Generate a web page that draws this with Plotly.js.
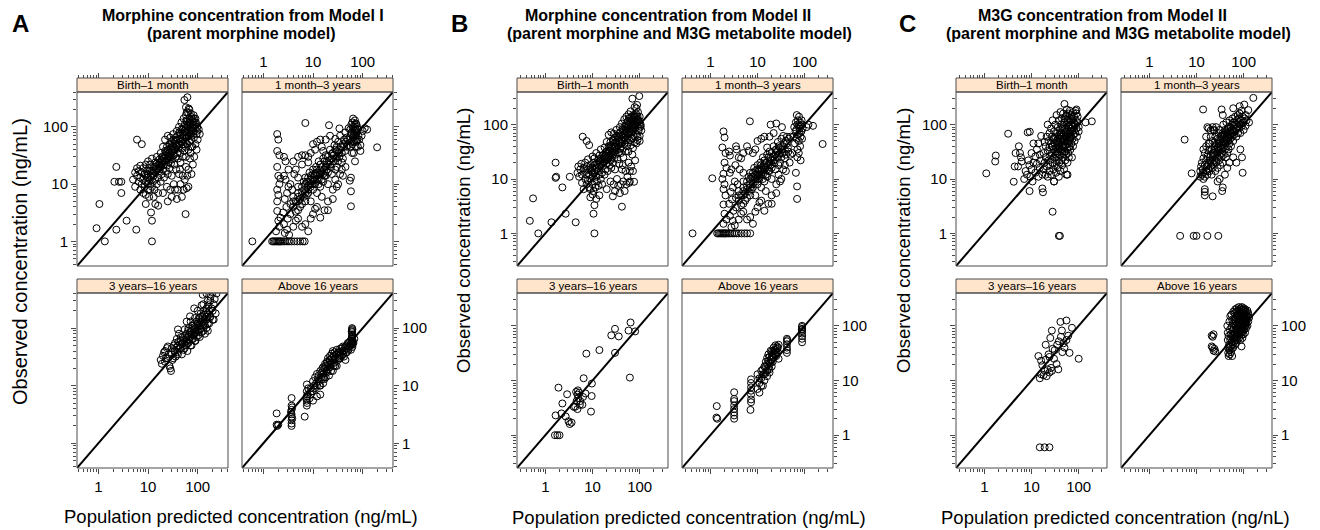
<!DOCTYPE html>
<html><head><meta charset="utf-8">
<script src="https://cdn.plot.ly/plotly-3.0.1.min.js"></script>
<style>html,body{margin:0;padding:0;background:#fff}#chart{width:1320px;height:530px}</style>
</head><body><div id="chart"></div>
<script>
// ---------------- data (observed vs population predicted, ng/mL) ----------------
const stripLabels = ['Birth–1 month','1 month–3 years','3 years–16 years','Above 16 years'];
const identityLine = [0.05, 2000];

const A_birth = [[0.92,1.7],[1.05,4.5],[1.35,1.0],[2.3,1.6],[3.7,2.3],[5.8,1.6],[2.3,20],[2.1,11],[2.6,11],[2.9,7],[2.9,11],[6,60],[7.5,50],[12,1],[12,2.3],[11.5,3.2],[57,3],[9,4.5],[14,4.5],[16,4.2],[13,6],
[5,12],[5.5,16],[5.5,9],[6,14],[6,19],[6.5,11],[6.5,17],[7,8],[7,13],[7,21],[7.5,10],[7.5,16],[8,7],[8,12],[8,19],[8.5,9],[8.5,15],[9,11],[9,6.5],[9,22],[9.5,13],[9.5,17],[10,8],[10,10],[10,15],[10,25],[10.5,6],[10.5,19],[11,12],[11,8],[11,22],[11.5,14],[12,9],[12,17],[12,28],[12.5,11],[13,14],[13,20],[13.5,8],[14,12],[14,24],[14,16],[15,10],[15,19],[15,30],[16,13],[16,22],[16,7],
[17,17],[17,27],[18,11],[18,20],[18,35],[19,15],[19,25],[20,18],[20,30],[20,45],[21,13],[21,22],[22,26],[22,38],[22,60],[23,17],[23,32],[24,21],[24,45],[25,28],[25,70],[25,15],[26,35],[26,24],[27,50],[27,19],[28,30],[28,42],[28,65],[29,23],[30,36],[30,55],[30,14],[31,27],[32,45],[32,75],[33,32],[34,22],[34,55],[35,40],[36,30],[36,65],[37,18],[38,48],[38,85],[39,35],
[40,28],[40,60],[41,42],[42,100],[43,50],[44,35],[45,75],[45,24],[46,55],[47,120],[48,42],[49,65],[50,30],[50,90],[51,50],[52,140],[53,70],[54,38],[55,110],[55,55],[56,80],[57,45],[58,160],[58,30],[59,95],[60,65],[61,125],[62,50],[63,85],[64,180],[65,40],[66,110],[67,70],[68,140],[69,55],[70,95],[71,120],[72,35],[73,75],[74,150],[75,60],[76,100],[78,130],[78,45],[80,85],[82,110],[84,65],[85,140],[88,95],[90,50],[92,120],[95,75],[98,100],[100,60],[105,90],[110,75],[95,40],[85,30],
[9,14],[10,13],[11,17],[12,15],[13,17],[14,20],[15,23],[16,18],[17,22],[18,25],[19,30],[20,24],[21,28],[22,32],[23,36],[24,26],[25,40],[26,30],[27,35],[28,48],[29,40],[30,46],[32,38],[33,60],[35,50],[37,58],[39,70],[41,52],[43,80],[45,62],[47,90],[49,55],[51,75],[53,100],[55,85],[57,65],[59,130],[61,80],[63,105],[65,70],[67,95],[69,120],[72,110],[74,85],[77,140],[79,105],[81,95],[83,160],[86,120],[90,140],[93,110],[97,85],
[54,295],[62,330],[58,220],[68,200],[73,170],[80,120],[75,70],[73,45],[66,210],[60,180],
[40,8],[45,10],[50,14],[55,12],[60,8.5],[65,9],[65,18],[48,6],[38,5.5],[35,8],[30,6],[25,5],[42,15],[70,28],[58,20],[75,15],[80,22],[52,8],[62,14],[44,18],[33,10],[28,8],[20,7],[24,9]];

const A_month = [[0.6,1],[1.5,1],[1.6,1],[1.7,1],[1.8,1],[1.9,1],[2,1],[2.1,1],[2.2,1],[2.3,1],[2.5,1],[2.7,1],[3,1],[3.3,1],[3.7,1],[4.2,1],[4.8,1],[5.5,1],[6.2,1],[6.8,1],
[1.9,75],[2.0,60],[1.9,38],[2.1,32],[1.9,20],[2.0,14],[2.1,10],[1.9,8],[2.0,6.5],[1.9,3.4],[2.0,2.3],[2.1,1.8],[1.8,1.5],[2.2,12.5],[1.9,5],[2.2,2.6],
[2.6,30],[2.8,25],[2.6,14],[2.8,12],[3,7],[2.7,5.5],[2.9,4],[3.1,2.5],[2.6,2],[3,1.6],[3.3,1.3],[3.2,9],[2.5,3.2],[3.2,18],[2.7,1.4],
[3.5,3],[3.5,4.5],[4,4],[4,6],[4.5,5],[4.5,3.3],[5,3.5],[5,7],[5,9],[5.5,5.5],[5.5,4],[6,4.5],[6,9],[6,6.5],[6.5,6],[6.5,11],[7,8],[7,5],[7,13],[7.5,11],[7.5,6.5],[8,7],[8,13],[8,9.5],[8.5,16],[9,9],[9,5],[9,12],[10,12],[10,8],[10,18],[10.5,14],[11,15],[11,10],[11.5,20],[12,18],[12,7],[12,12],[13,12],[13,25],[13.5,15],[14,22],[14,9],[15,16],[15,12],[16,11],[16,28],[17,25],[17,18],[18,14],[18,32],[19,18],[20,30],[20,10],[20,22],[22,22],[22,40],[24,15],[24,28],[25,35],[26,25],[27,48],[28,40],[28,18],[30,20],[30,30],[32,55],[33,35],[34,30],[35,70],[36,45],[38,24],[40,28],[40,50],[42,60],[44,38],[45,80],[47,65],[48,45],[50,48],[52,95],
[4,5],[5,5],[5,6],[6,7.5],[7,7],[7,10],[8,8],[8,11],[9,10],[9,14],[10,10],[10,15],[11,12],[12,14],[12,16],[13,10],[14,15],[14,18],[15,20],[16,15],[17,14],[18,20],[19,25],[20,16],[21,26],[23,20],[24,34],[26,32],[28,28],[30,38],[32,25],[35,40],[38,35],[42,45],[46,55],[50,60],
[55,60],[56,90],[57,45],[58,75],[59,110],[60,80],[60,55],[61,35],[62,50],[62,120],[63,95],[64,140],[64,65],[65,100],[66,35],[66,75],[67,55],[68,70],[68,110],[69,85],[70,130],[70,25],[70,60],[71,95],[72,90],[72,45],[73,115],[74,70],[75,110],[75,55],[76,80],[77,100],[78,60],[80,45],[80,90],[82,70],
[7,117],[21,107],[34,94],[195,44],[123,90],[100,85],[110,95],[58,4.1],[58,7.5],[55,11.5],[58,13],[90,38],[90,48],[85,60],[95,70],
[4,25],[4.5,18],[3.5,10],[5,30],[6,32],[7,32],[8,30],[9,35],[5,13],[3.8,8],[10,50],[12,55],[14,60],[16,38],[18,60],[22,70],[28,62],[30,45],[4.2,15],[6,22],[8,24],[11,40],[15,45],
[9,2.5],[10,3],[12,4],[15,6],[17,3.5],[20,5],[25,8],[28,12],[30,9],[35,15],[8,1.5],[6,1.8],[7,2],[5,2.5],[4,1.8],[4.5,2.3],[11,3.7],[14,2.6],[20,3.5],[40,14],[45,20],[25,5.5],[32,10],[38,18]];

const A_child = [[18,28],[19,24],[20,33],[21,38],[22,40],[22,26],[23,30],[24,45],[25,48],[25,30],[26,35],[27,22],[28,20],[29,18],[30,35],[30,45],[31,28],[32,30],[33,50],[34,40],[35,55],[35,40],[36,32],[37,46],[38,65],[39,38],[40,35],[40,50],[41,58],[42,80],[43,44],[45,45],[45,60],[46,70],[48,35],[48,52],[50,55],[50,70],[52,42],[53,62],[55,95],[55,45],[56,75],[58,60],[58,50],[60,80],[60,68],[62,40],[62,55],[64,90],[65,100],[65,55],[66,72],[68,62],[70,70],[70,85],[72,130],[72,50],[74,78],[75,90],[75,50],[77,110],[78,65],[80,110],[80,65],[82,95],[84,75],[85,80],[86,120],[88,150],[88,60],[90,100],[92,85],[95,70],[95,130],[98,110],[100,200],[100,120],[100,90],[103,75],[105,85],[105,150],[108,110],[110,150],[112,95],[115,100],[115,180],[118,130],[120,250],[120,85],[125,130],[125,160],[128,110],[130,90],[130,200],[135,170],[135,120],[140,110],[140,140],[145,190],[150,220],[150,140],[150,100],[155,160],[160,180],[160,120],[165,250],[170,120],[170,200],[175,150],[180,300],[180,160],[190,220],[200,200],[200,140],[210,140],[210,260],[220,320],[230,180],[160,300],[130,260],[85,220],[70,160],[60,130],[40,95],[90,60],[110,70],[140,80],[160,90],[126,380],[150,400],[180,350],[200,420],[240,400]];

const A_adult = [[1.85,3.3],[1.85,2.1],[1.9,2.0],[2.0,2.1],
[3.7,6.1],[3.7,4.5],[3.7,3.8],[3.7,3.2],[3.7,2.9],[3.7,2.5],[3.7,2.2],[3.7,2.0],[3.8,2.7],[3.6,3.5],[3.8,4.2],[6.8,2.9],
[7.5,10.5],[7.5,8],[7.5,6.5],[7.5,5.5],[7.5,4.5],[7.8,7],[8,9],[7.6,5],[7.4,6],
[8.5,6],[9,7],[9,9],[9.5,8],[10,8],[10,12],[10,5.5],[10.5,10],[11,9],[11,14],[11.5,11],[12,10],[12,6.5],[12,16],[12.5,13],[13,12],[13,15],[13.5,10],[14,10],[14,18],[14,7],[14.5,14],[15,13],[15,17],[15.5,20],[16,16],[16,11],[16,21],[16.5,14],[17,20],[17,13],[17.5,24],[18,14],[18,22],[18.5,18],[19,17],[19,26],[19.5,21],[20,25],[20,19],[20,30],[21,15],[21,23],[21.5,28],[22,28],[22,21],[22,33],[23,25],[23,18],[24,30],[24,24],[24,36],[25,18],[25,28],[25,40],[26,33],[26,22],[27,25],[27,38],[28,30],[28,22],[29,35],[30,35],[30,22],[30,42],[31,30],[32,28],[32,38],[33,33],[34,38],[34,30],[35,30],[35,44],[36,36],[38,45],[38,33],[39,40],[40,35],[40,48],[42,40],[42,32],[44,45],[45,28],[45,48],[46,38],[48,38],[48,50],[50,45],[50,55],[52,55],[52,42],[54,48],[55,50],[56,60],[58,42],[58,52],[60,60],[62,52],[64,58],[65,55],[68,65],
[61,100],[61,92],[61,85],[61,78],[61,70],[61,64],[61,58],[61,52],[62,47],[60,66],[62,96],[60,88],[62,74],[60,55]];

const B_birth = [[0.47,1.7],[0.55,4.4],[0.71,1.0],[1.35,1.6],[2.7,2.3],[4.4,1.6],[1.65,20],[1.7,11],[1.65,10.5],[2.3,7],[3.3,11],[6.2,60],[7.5,50],[8.5,42],[11,1],[10.5,2.3],[11,3.3],[42,3.1],[76,8.9],[9,4.6],[12,4.3],[14,5],[10,5.2],
[4.8,13],[5,17],[5.2,11],[5.5,15],[5.8,19],[6,12],[6,8.5],[6.5,16],[6.5,6.5],[7,10],[7,14],[7,20],[7.5,8],[7.5,12],[7.5,17],[8,9.5],[8,15],[8,23],[8.5,7],[8.5,12],[9,10],[9,18],[9,6.5],[9.5,14],[10,8],[10,11],[10,16],[10,26],[10.5,6],[10.5,20],[11,9],[11,13],[11,24],[11.5,7],[11.5,16],[12,11],[12,19],[12,30],[12.5,9],[13,14],[13,22],[13.5,7.5],[14,12],[14,17],[14,27],[15,10],[15,20],[15,35],[16,13],[16,24],[16,8],
[17,18],[17,28],[18,12],[18,21],[18,38],[19,15],[19,27],[20,19],[20,32],[20,48],[21,14],[21,23],[22,27],[22,40],[22,65],[23,18],[23,33],[24,22],[24,48],[25,29],[25,72],[25,16],[26,37],[26,25],[27,52],[27,20],[28,31],[28,44],[28,68],[29,24],[30,38],[30,58],[30,15],[31,28],[32,47],[32,80],[33,34],[34,23],[34,58],[35,42],[36,31],[36,68],[37,19],[38,50],[38,90],[39,36],
[40,30],[40,62],[41,44],[42,105],[43,52],[44,36],[45,78],[45,25],[46,57],[47,125],[48,44],[49,68],[50,32],[50,92],[51,52],[52,140],[53,72],[54,40],[55,112],[55,57],[56,82],[57,47],[58,155],[58,32],[59,97],[60,67],[61,128],[62,52],[63,87],[64,175],[65,42],[66,112],[67,72],[68,142],[69,57],[70,97],[71,122],[72,37],[73,77],[74,150],[75,62],[76,102],[78,132],[78,47],[80,87],[82,112],[84,67],[85,142],[88,97],[90,52],[92,122],[95,77],[98,102],[100,62],[105,92],[108,78],
[9,15],[10,13],[11,18],[12,15],[13,18],[14,21],[15,24],[16,19],[17,23],[18,26],[19,31],[20,25],[21,29],[22,33],[23,37],[24,27],[25,42],[26,31],[27,36],[28,50],[29,41],[30,47],[32,39],[33,62],[35,52],[37,60],[39,72],[41,54],[43,82],[45,64],[47,92],[49,57],[51,77],[53,102],[55,87],[57,67],[59,132],[61,82],[63,107],[65,72],[67,97],[69,122],[72,112],[74,87],[77,142],[79,107],[81,97],[83,162],[86,122],[90,142],[93,112],[97,87],
[98,335],[70,300],[88,230],[85,200],[92,170],[78,210],[100,140],[95,120],[105,100],[90,60],[85,45],[100,50],
[40,8],[45,9],[50,14],[55,11],[60,8.5],[62,9],[66,17],[48,6],[38,5.5],[35,7.5],[30,6],[27,4.8],[42,15],[70,28],[58,20],[72,14],[80,22],[52,8],[62,14],[44,18],[33,10],[28,8],[20,6.5],[24,9]];

const B_month = [[0.42,1],[1.4,1],[1.5,1],[1.6,1],[1.7,1],[1.8,1],[1.9,1],[2,1],[2.1,1],[2.2,1],[2.4,1],[2.6,1],[2.9,1],[3.2,1],[3.6,1],[4,1],[4.6,1],[5.3,1],[6,1],[7,1],
[1.9,75],[2.0,58],[1.8,38],[2.1,30],[2.0,20],[1.9,12.5],[2.2,16],[1.8,10],[2.0,8],[1.9,6.5],[2.1,5],[1.9,3.4],[2.0,2.3],[2.2,1.8],[1.9,1.5],[1.1,10.3],
[2.5,32],[2.6,27],[2.8,15],[2.6,13],[3,7],[2.7,5.8],[2.9,4.2],[3.1,2.6],[2.6,2.1],[3,1.7],[3.3,1.4],[3.3,9],[2.5,3.5],[3.4,18],[2.8,1.3],[3.5,40],[3.6,35],[4,25],[4.5,24],[5,30],[6,40],[6.5,33],
[3.5,3],[3.5,4.5],[4,4],[4,6],[4.5,5],[4.5,3.3],[5,3.5],[5,7],[5,9],[5.5,5.5],[5.5,4],[6,4.5],[6,9],[6,6.5],[6.5,6],[6.5,11],[7,8],[7,5],[7,13],[7.5,11],[7.5,6.5],[8,7],[8,13],[8,9.5],[8.5,16],[9,9],[9,5],[9,12],[10,12],[10,8],[10,18],[10.5,14],[11,15],[11,10],[11.5,20],[12,18],[12,7],[12,12],[13,12],[13,25],[13.5,15],[14,22],[14,9],[15,16],[15,12],[16,11],[16,28],[17,25],[17,18],[18,14],[18,32],[19,18],[20,30],[20,10],[20,22],[22,22],[22,40],[24,15],[24,28],[25,35],[26,25],[27,48],[28,40],[28,18],[30,20],[30,30],[32,55],[33,35],[34,30],[35,62],[36,45],[38,24],[40,28],[40,50],[42,60],[44,38],
[4,5],[5,5],[5,6],[6,7.5],[7,7],[7,10],[8,8],[8,11],[9,10],[9,14],[10,10],[10,15],[11,12],[12,14],[12,16],[13,10],[14,15],[14,18],[15,20],[16,15],[17,14],[18,20],[19,25],[20,16],[21,26],[23,20],[24,34],[26,32],[28,28],[30,38],[32,25],[35,40],[38,35],[42,45],[46,55],[50,60],
[58,60],[60,90],[62,45],[64,75],[65,110],[66,80],[68,55],[68,150],[70,35],[70,100],[72,120],[72,65],[74,95],[75,50],[76,140],[78,85],[78,70],[80,110],[80,40],[82,60],[83,95],[85,75],[86,120],[88,55],[88,100],[90,85],[75,30],[70,25],[82,22],
[6.9,115],[240,44],[69,4.3],[69,7.3],[65,13],[150,95],[120,100],[110,90],[19,100],[25,105],[33,90],[45,32],[50,28],[55,30],[48,20],
[4.2,15],[5,13],[3.8,8],[8,30],[9,35],[10,50],[12,55],[14,60],[16,38],[18,60],[22,70],
[9,2.5],[10,3],[12,4],[15,6],[17,3.5],[20,5],[25,8],[28,12],[30,9],[35,15],[8,1.5],[6,1.8],[7,2],[5,2.5],[4,1.8],[4.5,2.3],[11,3.7],[14,2.6],[20,3.5],[40,14],[25,5.5],[32,10],[38,18]];

const B_child = [[64,115],[30,88],[25,67],[36,64],[58,82],[80,79],[14,36],[30,32],[7.4,31],[62,11.3],[6.5,11],[9.7,8.8],[1.9,7.4],[2.9,5.6],[4.9,6.6],[5.2,6.0],[4.8,5.5],[7.1,5.8],[6.3,5.0],[9.6,5.2],[2.3,3.8],[5.0,4.8],[4.6,4.2],[5.4,3.6],[4.3,3.3],[4.8,3.0],[4.0,3.3],[6.1,3.6],[9.3,2.7],[1.65,2.3],[2.2,2.5],[2.7,2.2],[3.1,1.8],[3.3,1.6],[3.6,1.7],[1.6,1],[1.8,1],[2.0,1],[5.5,4.2],[4.5,6.2]];

const B_adult = [[1.37,3.4],[1.35,2.1],[1.4,2.0],
[3.2,6.1],[3.2,4.6],[3.2,4.2],[3.2,3.5],[3.2,3.0],[3.2,2.6],[3.2,2.3],[3.2,2.0],[7.1,2.9],
[7.3,10.5],[7.3,9],[7.3,7.5],[7.3,6.5],[7.3,5.5],[7.3,4.5],[7.3,4.0],
[10,7],[10,13],[11,9],[11,6],[12,11],[12,15],[13,8],[13,13],[14,18],[14,10],[15,14],[15,22],[16,12],[16,26],[17,17],[17,30],[18,20],[18,14],[19,24],[19,35],[20,28],[20,18],[21,32],[21,22],[22,40],[22,26],[23,30],[24,36],[24,44],[25,28],[26,38],[27,33],[28,45],[28,25],
[11,11],[12,8],[13,16],[14,13],[15,18],[16,20],[17,23],[18,27],[19,21],[20,24],[21,27],[22,31],[23,36],[24,30],[25,33],[26,42],[27,40],[18,16],[16,15],[20,34],
[42,58],[42,52],[42,46],[42,40],[42,36],[42,32],[43,55],
[88,100],[88,95],[88,88],[88,80],[88,72],[88,65],[88,58],[88,50],[87,85]];

const C_birth = [[1.1,12.7],[1.75,27],[1.7,21],[3.2,68],[4.2,8.9],[4.4,17],[5.2,17],[4.6,30],[5.7,30],[5.4,40],[6,25],[6.2,21],[8.3,72],[9.2,74],[9.1,6],[17,6.7],[17.5,5.7],[28,2.5],[38,0.9],[40,0.9],[140,110],[190,115],
[7,10],[7.5,14],[8,12],[8.5,22],[9,18],[9.5,11],[10,15],[10,30],[10.5,9],[11,20],[11,45],[12,13],[12,26],[13,19],[13,35],[14,45],[14,11],[15,16],[15,28],[16,62],[16,22],[17,12],
[18,15],[18,30],[19,48],[19,20],[20,12],[20,25],[20,40],[21,60],[21,17],[22,11],[22,33],[22,100],[23,22],[23,50],[24,14],[24,38],[24,70],[25,27],[25,18],[26,45],[26,85],[26,12],[27,30],[27,60],[28,20],[28,40],[28,120],[29,15],[29,52],[30,25],[30,35],[30,75],[30,9],[31,45],[31,18],[32,60],[32,28],[32,100],[33,38],[33,13],[34,50],[34,22],[34,150],[35,30],[35,70],[36,42],[36,16],[36,90],[37,55],[37,25],[38,35],[38,120],[38,11],[39,65],[39,20],[40,45],[40,28],[40,80],[41,170],[41,14],[42,55],[42,35],[42,100],[43,22],[43,70],[44,40],[44,130],[45,30],[45,60],[45,18],[46,90],[46,48],[47,25],[47,160],[48,38],[48,70],[49,110],[49,15],[50,240],[50,50],[50,32],[51,85],[52,22],[52,60],[53,140],[53,42],[54,28],[54,75],[55,100],[55,12],[56,55],[56,190],[57,35],[57,80],[58,20],[58,120],[59,45],[60,65],[60,30],[60,160],[61,90],[62,50],[62,25],[63,110],[64,70],[64,40],[65,180],[66,55],[66,130],[67,35],[68,85],[68,60],[70,100],[70,45],[70,150],[72,75],[72,25],[74,120],[74,55],[75,90],[76,170],[76,40],[78,65],[78,110],[80,80],[80,140],[82,50],[84,100],[85,70],[86,180],[88,120],[90,190],[90,160],[90,85],[92,60],[95,110],[95,140],[100,90],[100,75],[58,12],[30,9],
[33,32],[36,48],[39,40],[42,65],[45,42],[48,55],[51,40],[54,62],[57,50],[60,95],[63,58],[66,75],[69,120],[72,95],[45,85],[50,130],[55,150],[40,60],[35,38],[30,55],[27,40],[52,32],[62,38],[75,130],[80,105]];

const C_month = [[4.5,0.9],[8.7,0.9],[10,0.9],[17,0.9],[29,0.9],
[5.6,53],[7.9,12.7],[13.8,190],[34,190],[36,150],[60,200],[82,218],[103,234],[160,310],[95,13],[15,5.8],[15,5.0],[15,6.5],[22,4.8],[35,6],[36,7],[28,9],[31,10],
[12,11],[12,14],[12.5,17],[13,12],[13,20],[13.5,15],[14,10],[14,24],[14,13],[15,18],[15,30],[15,11],[16,14],[16,22],[16,40],[16.5,17],[17,12],[17,26],[17,90],[18,19],[18,33],[18,15],[19,22],[19,14],[19,45],[20,28],[20,17],[20,60],[21,20],[21,35],[21,12],[22,25],[22,50],[22,16],[23,30],[23,19],[23,80],[24,40],[24,22],[25,28],[25,60],[25,14],[26,35],[26,20],[26,90],[27,45],[27,25],[28,30],[28,55],[28,16],[29,38],[29,70],[30,22],[30,45],[30,33],[31,80],[31,27],[32,50],[32,18],[33,36],[33,62],[34,25],[34,42],[35,55],[35,30],[36,70],[36,20],[37,38],[37,100],[38,48],[38,28],[39,60],[40,35],[40,80],[41,45],[42,25],[42,55],[43,70],[43,110],[44,40],[45,60],[45,30],[46,85],[47,50],[48,65],[48,35],[50,75],[50,45],[50,120],[52,55],[53,90],[54,40],[55,70],[56,100],[57,60],[58,130],[60,80],[60,50],[62,95],[62,65],[64,110],[65,75],[66,140],[68,85],[70,100],[70,60],[72,120],[74,90],[75,150],[76,70],[78,105],[80,130],[80,85],[82,160],[84,100],[85,70],[88,120],[90,180],[92,95],[95,140],[98,110],[100,80],[105,130],[110,150],[110,95],[115,120],[125,185],[130,110],[92,25],[85,35],[70,20],[60,25],[50,20],[45,16],[40,12],[18,85],[20,78],[22,90],[24,78],[16,60],[18,45],[14,35],
[20,22],[22,30],[24,34],[26,42],[28,38],[30,52],[32,40],[34,60],[36,50],[38,65],[40,55],[42,75],[44,62],[46,70],[48,90],[52,75],[56,80],[60,110]];

const C_child = [[15,0.6],[19,0.6],[24,0.6],[41,118],[55,125],[27,82],[44,82],[72,92],[25,60],[42,63],[60,66],[20,45],[38,52],[48,48],[31,36],[45,33],[64,32],[100,25],[14,28],[16,23],[23,30],[28,38],[20,24],[24,27],[34,20],[37,16],[17,19],[19,15],[22,16],[26,17],[24,14],[27,15],[15,11],[16,13],[18,12.5],[21,12],[50,40],[35,45],[55,55],[30,25]];

const C_adult = [[21,66],[23,70],[22,63],[21,42],[24,38],[23,35],[25,34],[22,40],
[45,100],[46,75],[46,55],[47,40],[47,32],[48,28],[48,65],[49,45],[50,120],[50,36],[51,85],[51,30],[52,55],[52,150],[53,42],[53,70],[54,33],[55,95],[55,160],[55,50],[56,38],[56,65],[57,130],[57,28],[58,45],[58,80],[59,58],[59,110],[60,40],[60,70],[60,180],
[62,50],[62,90],[63,130],[64,60],[64,170],[65,75],[65,45],[66,110],[66,200],[67,85],[67,55],[68,140],[68,65],[69,100],[69,48],[70,120],[70,75],[70,180],[71,90],[71,60],[72,150],[72,210],[73,70],[73,110],[74,55],[74,130],[75,95],[75,165],[76,80],[76,120],[77,190],[77,65],[78,100],[78,145],[79,75],[79,220],[80,110],[80,60],[80,170],[81,90],[81,130],[82,200],[82,70],[83,150],[83,100],[84,120],[84,80],[85,180],[85,55],[86,95],[86,140],[87,210],[87,75],[88,110],[88,160],[89,130],[89,85],[90,190],[90,42],[90,100],[91,70],[91,150],[92,120],[92,220],[93,90],[93,175],[94,105],[94,60],[95,140],[95,200],[96,80],[96,125],[97,160],[97,95],[98,110],[98,185],[99,70],[99,140],[100,210],[100,100],[100,130],[102,160],[102,85],[103,120],[104,190],[104,95],[105,140],[106,110],[106,170],[107,75],[108,130],[108,200],[109,100],[110,150],[110,120],[112,180],[112,90],[114,140],[115,110],[116,160],[118,130],[120,190],[120,100],[122,150],[125,120],[125,170],[130,140]];

// ---------------- panel definitions ----------------
const panels = [
  {letter:'A', t1:'Morphine concentration from Model I', t2:'(parent morphine model)',
   xtitle:'Population predicted concentration (ng/mL)', range:[-0.43,2.61], sets:[A_birth,A_month,A_child,A_adult],
   pos:{off:0, letter:[21,24], t1:[243,16], t2:[241,34], xt:[241,516], yt:[20,262], ytSize:20}},
  {letter:'B', t1:'Morphine concentration from Model II', t2:'(parent morphine and M3G metabolite model)',
   xtitle:'Population predicted concentration (ng/mL)', range:[-0.6,2.6], sets:[B_birth,B_month,B_child,B_adult],
   pos:{off:440, letter:[459,24], t1:[668,16], t2:[679,34], xt:[689,517], yt:[463,241], ytSize:18.5}},
  {letter:'C', t1:'M3G concentration from Model II', t2:'(parent morphine and M3G metabolite model)',
   xtitle:'Population predicted concentration (ng/nL)', range:[-0.6,2.6], sets:[C_birth,C_month,C_child,C_adult],
   pos:{off:879, letter:[907,24], t1:[1102,16], t2:[1118,34], xt:[1115,517], yt:[903,241], ytSize:18.5}}
];

const W = 1320, H = 530;
const FONT = '"Liberation Sans", Arial, Helvetica, sans-serif';
const LINE = '#4a4a4a';
const colX = [[77,228],[242,393]];
const rowY = [[92,266],[293,468]];
const stripTop = [78,279];
const px = v => v / W;
const py = v => 1 - v / H;

const data = [];
const layout = {
  width: W, height: H, margin:{l:0,r:0,t:0,b:0}, paper_bgcolor:'#fff', plot_bgcolor:'#fff',
  showlegend:false, font:{family:FONT, color:'#000'}, shapes:[], annotations:[]
};

panels.forEach((P, pi) => {
  P.sets.forEach((pts, j) => {
    const k = pi*4 + j + 1;
    const col = j % 2, row = Math.floor(j / 2);
    const xn = 'x' + (k===1?'':k), yn = 'y' + (k===1?'':k);
    const xk = 'xaxis' + (k===1?'':k), yk = 'yaxis' + (k===1?'':k);
    const off = P.pos.off;
    const common = {
      type:'log', range:P.range, dtick:1, ticks:'outside', ticklen:5, tickwidth:1, tickcolor:LINE,
      showgrid:false, zeroline:false, showline:false, fixedrange:true,
      tickfont:{family:FONT, size:15, color:'#000'},
      minor:{ticks:'outside', ticklen:3, tickwidth:1, tickcolor:LINE, dtick:'D1', showgrid:false}
    };
    const xa = Object.assign({}, common, {
      domain:[px(colX[col][0]+off), px(colX[col][1]+off)]
    });
    if (row === 0) {
      Object.assign(xa, {side:'top', anchor:'free', position:py(stripTop[0]), showticklabels: col===1});
    } else {
      Object.assign(xa, {side:'bottom', anchor:yn, showticklabels: col===0});
    }
    const ya = Object.assign({}, common, {
      domain:[py(rowY[row][1]), py(rowY[row][0])], anchor:xn,
      side: col===0 ? 'left' : 'right',
      showticklabels: (col===0 && row===0) || (col===1 && row===1)
    });
    layout[xk] = xa; layout[yk] = ya;

    data.push({x:identityLine, y:identityLine, xaxis:xn, yaxis:yn, mode:'lines',
      line:{color:'#000', width:2}, hoverinfo:'skip'});
    data.push({x:pts.map(p=>p[0]), y:pts.map(p=>p[1]), xaxis:xn, yaxis:yn, mode:'markers',
      marker:{symbol:'circle-open', size:7, color:'#000', line:{width:1, color:'#000'}}, hoverinfo:'x+y'});

    const plotH = rowY[row][1] - rowY[row][0];
    const stripH = rowY[row][0] - stripTop[row];
    layout.shapes.push({type:'rect', xref:xn+' domain', yref:yn+' domain', x0:0, x1:1, y0:1, y1:1+stripH/plotH,
      fillcolor:'#FFE5CC', line:{color:LINE, width:1}, layer:'above'});
    layout.shapes.push({type:'rect', xref:xn+' domain', yref:yn+' domain', x0:0, x1:1, y0:0, y1:1,
      line:{color:LINE, width:1}, layer:'above'});
    layout.annotations.push({xref:xn+' domain', yref:yn+' domain', x:0.5, y:1+stripH/2/plotH,
      text:stripLabels[j], showarrow:false, xanchor:'center', yanchor:'middle',
      font:{family:FONT, size:11.5, color:'#000'}});
  });
  const ann = (xy, text, size, extra) => layout.annotations.push(Object.assign({
    xref:'paper', yref:'paper', x:px(xy[0]), y:py(xy[1]), text:text, showarrow:false,
    xanchor:'center', yanchor:'middle', font:{family:FONT, size:size, color:'#000'}}, extra||{}));
  ann(P.pos.letter, '<b>'+P.letter+'</b>', 24);
  ann(P.pos.t1, '<b>'+P.t1+'</b>', 16);
  ann(P.pos.t2, '<b>'+P.t2+'</b>', 16);
  ann(P.pos.xt, P.xtitle, 18.5);
  ann(P.pos.yt, 'Observed concentration (ng/mL)', P.pos.ytSize, {textangle:-90});
});

Plotly.newPlot('chart', data, layout, {staticPlot:true, displayModeBar:false});
</script>
</body></html>
